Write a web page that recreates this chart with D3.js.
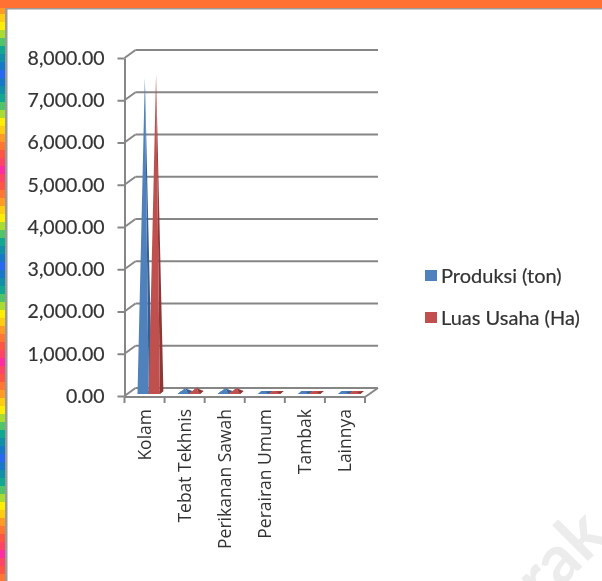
<!DOCTYPE html>
<html lang="en">
<meta charset="utf-8">
<style>
html, body { margin: 0; padding: 0; background: #fff; overflow: hidden; }
svg { display: block; }
.chart { filter: blur(0.45px); }
.axis text, .legend text { font-family: Lato, "Open Sans", sans-serif; fill: #333; stroke: #333; stroke-width: 0.2px; }
.axis path, .axis line, .wall line { stroke: #868686; stroke-width: 2px; fill: none; }
</style>
<body>
<div id="chart"></div>
<script src="https://d3js.org/d3.v7.min.js"></script>
<script>
"use strict";

const categories = ["Kolam", "Tebat Tekhnis", "Perikanan Sawah", "Perairan Umum", "Tambak", "Lainnya"];
const produksi = [7450, 100, 100, 15, 12, 12];
const luasUsaha = [7520, 115, 105, 15, 12, 12];
const yTicks = [0, 1000, 2000, 3000, 4000, 5000, 6000, 7000, 8000];

const seriesNames = ["Produksi (ton)", "Luas Usaha (Ha)"];
const seriesValues = [produksi, luasUsaha];
const frontColors = ["#4f81bd", "#c0504d"];
const sideColors = ["#38608f", "#8c3836"];

// frame decoration, one cycle of the strip on the left
const stripColors = ["#ff9a22", "#ffcc11", "#ffee00", "#a8dc30", "#50c468", "#10a890",
  "#1090a8", "#1878c8", "#2868f0", "#1878c8", "#1090a8", "#10a890", "#50c468", "#a8dc30",
  "#ffee00", "#ffcc11", "#ff9a22", "#ff7733", "#ff5544", "#ff4466", "#ff2ba0", "#ff4466",
  "#ff5544", "#ff7733"];

const width = 602, height = 581;
const depthX = 11, depthY = 8;   // offset between front of the floor and the back wall

const svg = d3.select("#chart").append("svg")
  .attr("width", width)
  .attr("height", height);

// watermark sits under everything
svg.append("text")
  .attr("transform", "translate(543,606) rotate(-45)")
  .attr("font-family", "Lato, sans-serif")
  .attr("font-weight", "bold")
  .attr("font-size", 68)
  .attr("fill", "#ececec")
  .text("rak");

const chart = svg.append("g").attr("class", "chart");

const x = d3.scaleBand().domain(categories).range([124.5, 365]);
const y = d3.scaleLinear().domain([0, 8000]).range([396, 58]);

// back wall lines with the little ramp down to the front axis
const wall = chart.append("g").attr("class", "wall");
wall.selectAll(".grid").data(yTicks).join("line")
  .attr("x1", x.range()[0] + depthX)
  .attr("x2", x.range()[1] + depthX + 2)
  .attr("y1", d => y(d) - depthY)
  .attr("y2", d => y(d) - depthY);
wall.selectAll(".ramp").data(yTicks).join("line")
  .attr("x1", x.range()[0])
  .attr("x2", x.range()[0] + depthX)
  .attr("y1", d => y(d))
  .attr("y2", d => y(d) - depthY);
wall.append("line")
  .attr("x1", x.range()[1])
  .attr("x2", x.range()[1] + depthX + 2)
  .attr("y1", y(0) + 1)
  .attr("y2", y(0) - depthY);

// pyramids, the base is drawn too so the very low ones still show as a flat band
const pyramidW = 11.2, sideW = 3.5, sideH = 3;
const baseY = y(0) - 2;
categories.forEach(function(c, i) {
  seriesValues.forEach(function(values, s) {
    const l = x(c) + 13 + s * pyramidW;
    const r = l + pyramidW;
    const apex = [l + pyramidW / 2 + sideW / 2, y(values[i]) - 3.5];
    chart.append("polygon")
      .attr("points", [[l, baseY], [r, baseY], [r + sideW, baseY - sideH], [l + sideW, baseY - sideH]].join(" "))
      .attr("fill", frontColors[s]);
    chart.append("polygon")
      .attr("points", [[r, baseY], [r + sideW, baseY - sideH], apex].join(" "))
      .attr("fill", sideColors[s]);
    chart.append("polygon")
      .attr("points", [[l, baseY], [r, baseY], apex].join(" "))
      .attr("fill", frontColors[s]);
  });
});

// axes
const yAxis = chart.append("g")
  .attr("class", "axis")
  .attr("transform", "translate(" + x.range()[0] + ",0)")
  .call(d3.axisLeft(y).tickValues(yTicks).tickSize(7).tickPadding(13)
    .tickFormat(d3.format(",.2f")).tickSizeOuter(0));
yAxis.selectAll("text").attr("font-size", 19.5).attr("font-family", null);

const xAxis = chart.append("g")
  .attr("class", "axis")
  .attr("transform", "translate(0," + (y(0) + 1) + ")")
  .call(d3.axisBottom(x).tickSize(0).tickPadding(0));
xAxis.select(".domain").attr("d", "M" + x.range()[0] + ",0H" + x.range()[1]);
xAxis.selectAll(".tick line").remove();
xAxis.selectAll(".edge").data(d3.range(categories.length + 1)).join("line")
  .attr("x1", i => x.range()[0] + i * x.step())
  .attr("x2", i => x.range()[0] + i * x.step())
  .attr("y1", 0)
  .attr("y2", 6);
xAxis.selectAll(".tick text")
  .style("font-family", "'Open Sans', sans-serif")
  .style("stroke-width", 0)
  .attr("font-size", 17.5)
  .attr("text-anchor", "end")
  .attr("dy", "0.35em")
  .attr("transform", "translate(0,12) rotate(-90)");

// legend
const legend = chart.append("g").attr("class", "legend")
  .selectAll("g").data(seriesNames).join("g")
  .attr("transform", (d, i) => "translate(425," + (270 + i * 42) + ")");
legend.append("rect")
  .attr("width", 12).attr("height", 11)
  .attr("fill", (d, i) => frontColors[i]);
legend.append("text")
  .attr("x", 16).attr("y", 5.5).attr("dy", "0.35em")
  .attr("font-size", 20)
  .text(d => d);

// frame: orange bar, coloured strip, grey inner border
svg.append("rect").attr("width", width).attr("height", 8).attr("fill", "#ff7033");
svg.selectAll(".strip").data(d3.range(Math.ceil((height - 6) / 8))).join("rect")
  .attr("x", 0).attr("y", k => 6 + k * 8)
  .attr("width", 5).attr("height", 8)
  .attr("fill", k => stripColors[k % stripColors.length]);
svg.append("rect").attr("y", 0).attr("width", 5).attr("height", 8).attr("fill", "#ff7033");
svg.append("rect").attr("x", 5).attr("y", 8).attr("width", 2.5).attr("height", height - 8).attr("fill", "#9a9a9a");
svg.append("rect").attr("x", 5).attr("y", 8).attr("width", width - 5).attr("height", 1.5).attr("fill", "#9a9a9a");
</script>
</body>
</html>
